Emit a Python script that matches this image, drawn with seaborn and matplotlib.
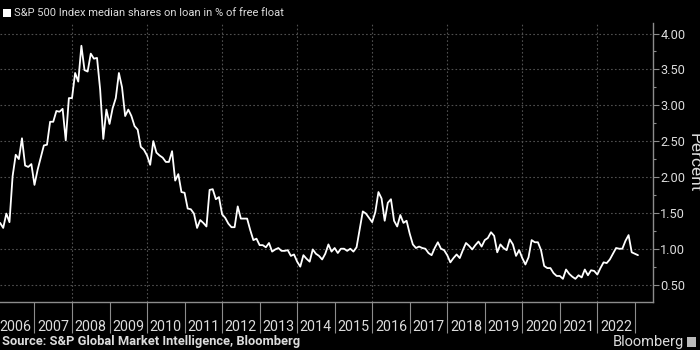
import numpy as np
import pandas as pd
import matplotlib
matplotlib.use("Agg")
import matplotlib.pyplot as plt
import seaborn as sns
from matplotlib.ticker import MultipleLocator, FixedLocator, NullFormatter, FixedFormatter
from matplotlib.patches import Rectangle

# ---- data (monthly, Feb 2006 .. Feb 2023) ----
values = [
    1.36, 1.29, 1.49, 1.37, 2.01, 2.31, 2.25, 2.54, 2.16, 2.14,
    2.18, 1.89, 2.10, 2.27, 2.44, 2.45, 2.77, 2.77, 2.92, 2.91,
    2.95, 2.51, 3.10, 3.10, 3.45, 3.33, 3.83, 3.49, 3.47, 3.72,
    3.65, 3.66, 3.22, 2.53, 2.94, 2.74, 2.96, 3.10, 3.45, 3.25,
    2.85, 2.94, 2.85, 2.71, 2.66, 2.42, 2.38, 2.30, 2.17, 2.50,
    2.34,
    2.30, 2.27, 2.21, 2.21, 2.36, 1.95, 2.04, 1.79, 1.78, 1.56,
    1.55, 1.49, 1.29, 1.40, 1.36, 1.31, 1.82, 1.83, 1.69, 1.72,
    1.48, 1.43, 1.35, 1.30, 1.30, 1.59, 1.42, 1.42, 1.42, 1.26,
    1.12, 1.14, 1.05, 1.05, 1.02, 1.08, 0.96, 0.99, 1.01, 0.97,
    0.97, 0.98, 0.90, 0.92, 0.82, 0.75, 0.91, 0.86, 0.82, 0.99,
    0.93, 0.90, 0.85, 0.93, 1.06,
    0.96, 1.01, 0.94, 1.00, 1.00, 0.97, 1.00, 0.96, 1.02, 1.27,
    1.52, 1.49, 1.43, 1.37, 1.51, 1.79, 1.70, 1.39, 1.64, 1.69,
    1.39, 1.31, 1.47, 1.36, 1.39, 1.21, 1.06, 1.01, 1.03, 1.01,
    1.00, 0.94, 0.91, 1.01, 1.09, 1.00, 0.98, 0.91, 0.81, 0.87,
    0.92, 0.87, 0.98, 1.08, 1.04, 0.99, 1.05, 1.10, 1.03, 1.12,
    1.15,
    1.23, 1.18, 0.95, 1.06, 1.01, 0.98, 1.13, 1.06, 0.90, 0.98,
    0.87, 0.78, 0.88, 1.12, 1.09, 1.09, 0.98, 0.76, 0.73, 0.73,
    0.66, 0.62, 0.62, 0.58, 0.71, 0.65, 0.61, 0.58, 0.63, 0.60,
    0.71, 0.63, 0.70, 0.69, 0.64, 0.73, 0.81, 0.80, 0.85, 0.93,
    1.01, 1.00, 1.00, 1.11, 1.19, 0.95, 0.93, 0.91,
]
years = list(range(2006, 2023))
year_labels = [str(y) for y in years]
y_ticks = [0.5, 1.0, 1.5, 2.0, 2.5, 3.0, 3.5, 4.0]
y_tick_labels = [f"{v:.2f}" for v in y_ticks]
title = "S&P 500 Index median shares on loan in % of free float"
source = "Source: S&P Global Market Intelligence, Bloomberg"
y_label = "Percent"

dates = pd.date_range("2006-02-01", periods=len(values), freq="MS")
dec_year = dates.year + (dates.month - 1) / 12.0
df = pd.DataFrame({"t": dec_year, "v": values})

# ---- style ----
sns.set_theme(style="dark")
FONT = ["Roboto", "DejaVu Sans"]
plt.rcParams["font.family"] = FONT
TXT = "#dcdcdc"
AX = "#8c8c8c"
GRID = "#505050"

fig = plt.figure(figsize=(7, 3.5), dpi=100, facecolor="black")
ax = fig.add_axes([0.0, 47.7 / 350, 652.7 / 700, 279.3 / 350], facecolor="black")

sns.lineplot(data=df, x="t", y="v", color="white", linewidth=1.3, ax=ax)

ax.set_xlim(2006.081, 2023.476)
ax.set_ylim(0.253, 4.147)

# y axis on the right
ax.yaxis.tick_right()
ax.yaxis.set_major_locator(FixedLocator(y_ticks))
ax.set_yticklabels(y_tick_labels)
ax.yaxis.set_minor_locator(MultipleLocator(0.25))
ax.tick_params(axis="y", which="major", direction="out", length=4, width=0.8,
               color=AX, labelcolor=TXT, labelsize=9.2, pad=1.5, right=True, left=False)
ax.tick_params(axis="y", which="minor", direction="out", length=2.5, width=0.8,
               color=AX, right=True, left=False)

# x axis: year separators with centred labels
ax.xaxis.set_major_locator(FixedLocator(years + [2023]))
ax.xaxis.set_major_formatter(NullFormatter())
ax.xaxis.set_minor_locator(FixedLocator([y + 0.5 for y in years]))
ax.xaxis.set_minor_formatter(FixedFormatter(year_labels))
ax.tick_params(axis="x", which="major", direction="out", length=22.5, width=0.8,
               color=AX, bottom=True)
ax.tick_params(axis="x", which="minor", length=0, labelcolor=TXT,
               labelsize=10.3, pad=12.5, bottom=True)

# grid
ax.grid(False)
for yv in y_ticks:
    ax.axhline(yv, color=GRID, lw=0.8, ls=(0, (1.5, 2.0)), zorder=0)
for yr in years[2::2]:
    ax.axvline(yr, color=GRID, lw=0.8, ls=(0, (1.5, 2.0)), zorder=0)

for s in ["top", "left"]:
    ax.spines[s].set_visible(False)
for s in ["right", "bottom"]:
    ax.spines[s].set_color(AX)
    ax.spines[s].set_linewidth(1.0)

ax.set_xlabel("")
ax.set_ylabel("")

fig.text(694 / 700, 1 - 163 / 350, y_label, rotation=270, ha="center", va="center",
         color=TXT, fontsize=12.5)

# title with square marker
fig.patches.append(Rectangle((3 / 700, 1 - 17 / 350), 8 / 700, 8 / 350,
                             transform=fig.transFigure, facecolor="white",
                             edgecolor="none"))
fig.text(14 / 700, 1 - 13 / 350, title, ha="left", va="center", color=TXT, fontsize=8.0)

fig.text(2 / 700, 1 - 342 / 350, source, ha="left", va="center", color=TXT,
         fontsize=9.3, fontweight="bold")
fig.text(684 / 700, 1 - 342 / 350, "Bloomberg", ha="right", va="center", color=TXT,
         fontsize=10.5)
fig.patches.append(Rectangle((687 / 700, 1 - 347 / 350), 9 / 700, 10 / 350,
                             transform=fig.transFigure, facecolor="#bbbbbb",
                             edgecolor="none"))

fig.savefig("out.png", dpi=100, facecolor="black")
